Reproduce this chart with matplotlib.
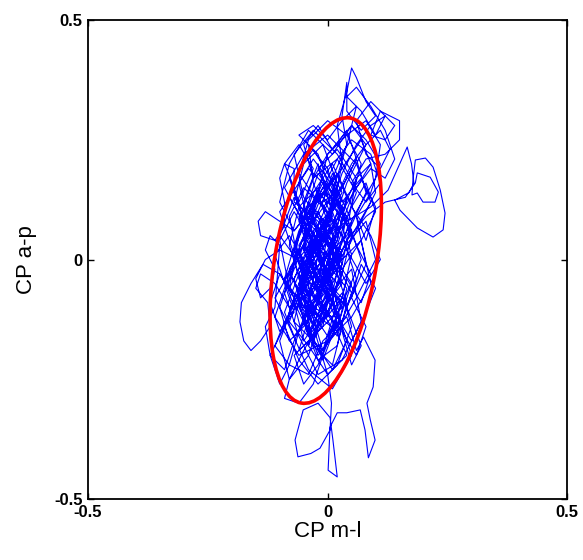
import matplotlib
matplotlib.use("Agg")
import matplotlib.pyplot as plt
from matplotlib.patches import Ellipse
import numpy as np

# centre of pressure path
core1_ml = [0.00, -0.03, 0.02, -0.01, -0.06, -0.02, 0.03, 0.01, -0.04, -0.07,
            -0.03, 0.02, 0.05, 0.00, -0.05, -0.02, 0.03, 0.00, -0.05, -0.08,
            -0.04, 0.01, -0.01, -0.06, -0.03, 0.02, 0.04, -0.01, -0.05, -0.02]
core1_ap = [0.00, 0.08, 0.15, 0.05, -0.04, -0.12, -0.05, 0.06, 0.12, 0.02,
            -0.08, -0.16, -0.07, 0.03, 0.09, 0.18, 0.11, -0.02, -0.10, -0.02,
            0.05, -0.04, -0.14, -0.19, -0.09, 0.00, 0.09, 0.14, 0.04, -0.05]

top_ml = [0.01, 0.03, 0.02, 0.04, 0.05, 0.06, 0.08, 0.10, 0.07, 0.04, 0.04, 0.03, 0.04, 0.01, -0.02]
top_ap = [0.10, 0.20, 0.28, 0.35, 0.40, 0.38, 0.33, 0.30, 0.27, 0.31, 0.37, 0.30, 0.24, 0.17, 0.10]

core2_ml = [-0.06, -0.03, 0.01, 0.04, 0.00, -0.04, -0.02, 0.02, -0.02, -0.07,
            -0.05, -0.01, 0.02, 0.00, -0.04, -0.07, -0.05, -0.01, 0.03, 0.05,
            0.02, -0.03, -0.01, 0.03, -0.02, -0.06, -0.04, 0.00, 0.03, 0.06]
core2_ap = [0.01, -0.07, -0.13, -0.20, -0.24, -0.18, -0.08, 0.02, 0.08, 0.12,
            0.20, 0.24, 0.16, 0.07, -0.01, -0.09, -0.17, -0.11, -0.03, 0.05,
            0.12, 0.06, -0.03, -0.10, -0.15, -0.08, 0.00, 0.09, 0.18, 0.24]

upright_ml = [0.09, 0.12, 0.14, 0.12, 0.09, 0.11, 0.15, 0.15, 0.12, 0.08, 0.05, 0.08, 0.11, 0.09, 0.05, 0.02]
upright_ap = [0.28, 0.30, 0.28, 0.25, 0.26, 0.31, 0.29, 0.25, 0.22, 0.21, 0.16, 0.12, 0.16, 0.22, 0.25, 0.21]

core3_ml = [-0.02, -0.05, -0.02, 0.01, -0.03, -0.07, -0.05, -0.01, 0.03, 0.01,
            -0.04, -0.08, -0.06, -0.03, 0.01, 0.04, 0.02, -0.03, -0.05, -0.02,
            0.02, 0.04, 0.01, -0.03, -0.06, -0.03, 0.00, 0.02, -0.01, -0.04]
core3_ap = [0.13, 0.06, -0.02, -0.09, -0.17, -0.13, -0.04, 0.04, 0.02, -0.07,
            -0.11, -0.06, 0.05, 0.14, 0.20, 0.13, 0.04, -0.04, -0.13, -0.21,
            -0.18, -0.09, 0.00, 0.03, -0.05, -0.14, -0.06, 0.07, 0.16, 0.10]

upleft_ml = [-0.07, -0.10, -0.13, -0.145, -0.14, -0.11, -0.09, -0.09, -0.10, -0.09, -0.07, -0.07, -0.05]
upleft_ap = [0.06, 0.08, 0.10, 0.08, 0.05, 0.04, 0.07, 0.12, 0.17, 0.20, 0.19, 0.14, 0.08]

core4_ml = [-0.02, 0.02, 0.00, -0.04, -0.06, -0.02, 0.01, -0.02, -0.06, -0.08,
            -0.04, -0.01, 0.03, 0.06, 0.03, -0.01, -0.05, -0.08, -0.06, -0.03]
core4_ap = [0.00, -0.05, -0.12, -0.06, 0.03, 0.10, 0.03, -0.07, -0.15, -0.22,
            -0.24, -0.17, -0.13, -0.04, 0.05, 0.11, 0.15, 0.09, -0.01, -0.10]

left_ml = [-0.07, -0.10, -0.135, -0.16, -0.18, -0.183, -0.175, -0.16, -0.14, -0.12, -0.125, -0.15, -0.14, -0.11, -0.08]
left_ap = [-0.07, -0.03, -0.01, -0.05, -0.09, -0.13, -0.17, -0.19, -0.17, -0.14, -0.09, -0.06, -0.03, -0.05, -0.10]

core5_ml = [-0.04, 0.00, 0.03, 0.00, -0.03, -0.06, -0.04, 0.00, 0.04, 0.02,
            -0.02, -0.05, -0.02, 0.02, 0.05, 0.07, 0.04, 0.00, -0.02, -0.05]
core5_ap = [-0.05, 0.02, 0.10, 0.17, 0.21, 0.16, 0.07, -0.01, -0.06, -0.15,
            -0.20, -0.12, -0.03, 0.05, 0.13, 0.20, 0.26, 0.22, 0.14, 0.02]

right_ml = [0.04, 0.09, 0.126, 0.166, 0.175, 0.18, 0.17, 0.14, 0.151, 0.187,
            0.22, 0.241, 0.245, 0.235, 0.22, 0.204, 0.183, 0.178, 0.176, 0.187,
            0.199, 0.224, 0.231, 0.214, 0.187, 0.183, 0.162, 0.12, 0.08, 0.04]
right_ap = [0.08, 0.11, 0.145, 0.235, 0.20, 0.16, 0.14, 0.124, 0.103, 0.066,
            0.047, 0.062, 0.097, 0.145, 0.193, 0.212, 0.208, 0.166, 0.135, 0.139,
            0.12, 0.12, 0.141, 0.172, 0.181, 0.16, 0.13, 0.12, 0.09, 0.04]

core6_ml = [0.01, -0.03, -0.07, -0.09, -0.06, -0.02, 0.02, 0.00, -0.04, -0.03,
            0.00, 0.03, 0.01, -0.03, -0.07, -0.05, -0.02, 0.01, 0.04, 0.06]
core6_ap = [-0.03, -0.11, -0.16, -0.11, -0.03, 0.05, 0.12, 0.19, 0.24, 0.16,
            0.08, -0.01, -0.09, -0.16, -0.20, -0.26, -0.22, -0.14, -0.12, -0.19]

bottom_ml = [0.075, 0.099, 0.095, 0.082, 0.089, 0.099, 0.085, 0.078, 0.068, 0.04,
             0.02, 0.005, 0.001, 0.02, 0.011, 0.005, -0.02, -0.051, -0.068, -0.062,
             -0.035, -0.016, 0.005, 0.008, 0.00]
bottom_ap = [-0.162, -0.21, -0.266, -0.30, -0.335, -0.377, -0.414, -0.356, -0.314, -0.32,
             -0.32, -0.35, -0.44, -0.454, -0.377, -0.33, -0.30, -0.314, -0.377, -0.412,
             -0.405, -0.394, -0.356, -0.30, -0.24]

core7_ml = [-0.03, -0.06, -0.03, 0.01, -0.02, -0.06, -0.08, -0.05, -0.01, 0.03,
            0.05, 0.02, -0.02, 0.02, 0.06, 0.04, 0.00, -0.04, -0.08, -0.10,
            -0.07, -0.04, -0.01, 0.02, -0.01, -0.04, -0.02, 0.01, -0.02, -0.06,
            -0.03, 0.00, 0.03, 0.06, 0.04, 0.01, -0.03, -0.07, -0.04, 0.00]
core7_ap = [-0.14, -0.06, 0.02, 0.09, 0.15, 0.11, 0.03, -0.07, -0.13, -0.08,
            0.01, 0.10, 0.19, 0.23, 0.17, 0.06, -0.04, -0.13, -0.17, -0.10,
            -0.01, 0.08, 0.00, -0.09, -0.19, -0.09, 0.01, 0.13, 0.22, 0.26,
            0.28, 0.25, 0.29, 0.32, 0.24, 0.14, 0.05, -0.04, -0.15, -0.08]

botleft_ml = [-0.04, -0.08, -0.09, -0.06, -0.03, -0.01]
botleft_ap = [-0.20, -0.25, -0.29, -0.30, -0.26, -0.20]

core8_ml = [0.02, 0.00, -0.04, -0.02, 0.02, 0.00, -0.05, -0.03, 0.01, 0.03,
            0.01, -0.03, -0.05, -0.02, 0.01, -0.02]
core8_ap = [-0.12, -0.03, 0.06, 0.13, 0.07, -0.01, -0.08, -0.18, -0.22, -0.14,
            -0.05, 0.04, 0.12, 0.20, 0.10, 0.02]

core9_ml = [-0.09, -0.05, 0.00, 0.06, 0.09, 0.05, 0.01, -0.04, -0.10, -0.07,
            -0.02, 0.03, 0.08, 0.10, 0.06, 0.02, -0.03, -0.08, -0.11, -0.06,
            0.00, 0.05, 0.09, 0.07, 0.03, -0.02, -0.07, -0.10, -0.05, 0.01]
core9_ap = [0.15, 0.22, 0.26, 0.20, 0.12, 0.05, 0.14, 0.19, 0.10, 0.01,
            -0.06, 0.02, 0.08, 0.00, -0.08, -0.15, -0.11, -0.03, -0.12, -0.20,
            -0.17, -0.12, -0.05, 0.04, -0.02, 0.06, 0.13, 0.05, -0.02, 0.07]

core10_ml = [0.04, 0.08, 0.05, 0.01, -0.04, -0.08, -0.10, -0.07, -0.03, 0.02,
             0.06, 0.08, 0.04, -0.01, -0.05, -0.09, -0.06, -0.02, 0.03, 0.07,
             0.05, 0.00, -0.04, -0.08, -0.05, -0.01, 0.04, 0.08, 0.06, 0.02]
core10_ap = [0.16, 0.24, 0.28, 0.22, 0.27, 0.20, 0.12, 0.06, 0.11, 0.18,
             0.09, -0.01, -0.10, -0.04, 0.03, -0.07, -0.16, -0.24, -0.21, -0.13,
             -0.02, -0.08, -0.18, -0.13, -0.05, 0.00, 0.05, 0.14, 0.21, 0.13]

core11_ml = [-0.03, -0.07, -0.11, -0.08, -0.04, 0.01, 0.05, 0.02, -0.02, -0.06,
             -0.03, 0.02, 0.06, 0.03, -0.01, -0.05, -0.09, -0.06, -0.01, 0.04,
             0.07, 0.04, 0.00, -0.04, -0.07, -0.03, 0.01, 0.05, 0.02, -0.02]
core11_ap = [0.04, -0.01, -0.08, -0.14, -0.23, -0.27, -0.20, -0.11, -0.04, 0.08,
             0.17, 0.21, 0.14, 0.06, -0.06, -0.12, -0.04, 0.06, 0.15, 0.09,
             0.00, -0.07, -0.16, -0.10, 0.00, 0.09, 0.01, -0.05, -0.14, -0.08]

core12_ml = [0.02, 0.06, 0.10, 0.11, 0.08, 0.04, 0.00, -0.04, -0.06, -0.02,
             0.03, 0.07, 0.09, 0.06, 0.02, -0.03, -0.07, -0.05, 0.00, 0.04,
             0.02, -0.02, -0.05, -0.03, 0.01, 0.05, 0.03, -0.01, -0.04, -0.02]
core12_ap = [0.02, 0.10, 0.17, 0.24, 0.29, 0.26, 0.29, 0.25, 0.18, 0.12,
             0.19, 0.25, 0.20, 0.15, 0.22, 0.27, 0.22, 0.13, 0.06, 0.13,
             0.04, -0.05, 0.02, 0.11, 0.17, 0.08, -0.01, -0.09, -0.02, 0.05]

core13_ml = [-0.06, -0.09, -0.06, -0.02, 0.02, 0.05, 0.03, -0.01, -0.05, -0.08,
             -0.10, -0.07, -0.03, 0.01, 0.04, 0.01, -0.03, -0.06, -0.04, 0.00,
             0.03, 0.00, -0.04, -0.07, -0.09, -0.05, -0.01, 0.02, -0.01, -0.04]
core13_ap = [-0.05, -0.14, -0.21, -0.26, -0.22, -0.14, -0.07, -0.12, -0.19, -0.25,
             -0.17, -0.09, -0.17, -0.23, -0.17, -0.09, -0.02, -0.09, -0.16, -0.11,
             -0.03, 0.04, -0.03, -0.10, -0.04, 0.03, -0.06, -0.13, -0.21, -0.14]

core14_ml = [-0.01, 0.03, -0.01, -0.05, -0.02, 0.02, -0.02, -0.06, -0.03, 0.01,
             -0.03, -0.06, -0.02, 0.02, -0.01, -0.05, -0.03, 0.01, 0.04, 0.00,
             -0.04, -0.01, 0.03, 0.00, -0.04, -0.07, -0.03, 0.01, -0.02, 0.00]
core14_ap = [-0.06, 0.01, 0.07, 0.00, -0.07, -0.02, 0.04, -0.03, -0.10, -0.05,
             0.02, 0.09, 0.13, 0.06, -0.01, 0.05, 0.12, 0.16, 0.08, 0.03,
             0.10, 0.17, 0.11, 0.04, 0.09, 0.03, -0.04, 0.00, -0.08, -0.03]

core15_ml = [0.03, 0.07, 0.10, 0.08, 0.05, 0.09, 0.11, 0.08, 0.04, 0.07,
             0.10, 0.09, 0.06, 0.03, 0.06, 0.09, 0.07, 0.04, 0.02, 0.05,
             0.08, 0.10, 0.07, 0.05, 0.08, 0.06, 0.03, 0.05, 0.07, 0.04]
core15_ap = [0.00, 0.04, 0.10, 0.16, 0.11, 0.05, 0.00, -0.05, 0.02, 0.08,
             0.14, 0.20, 0.17, 0.10, 0.03, -0.03, -0.09, -0.04, -0.12, -0.17,
             -0.11, -0.06, -0.01, -0.08, -0.14, -0.20, -0.15, -0.22, -0.18, -0.10]

core16_ml = [0.00, -0.05, -0.09, -0.11, -0.08, -0.10, -0.12, -0.09, -0.07, -0.10,
             -0.12, -0.10, -0.07, -0.09, -0.11, -0.08, -0.05, -0.08, -0.10, -0.07,
             -0.04, -0.07, -0.09, -0.06, -0.03, -0.06, -0.08, -0.05, -0.02, 0.00]
core16_ap = [-0.03, -0.08, -0.13, -0.18, -0.22, -0.26, -0.20, -0.14, -0.08, -0.03,
             -0.09, -0.15, -0.11, -0.05, 0.01, 0.05, 0.00, -0.06, 0.04, 0.10,
             0.05, 0.15, 0.20, 0.24, 0.19, 0.12, 0.17, 0.08, 0.02, -0.04]

core17_ml = [0.02, 0.04, 0.02, -0.01, -0.02, 0.00, 0.03, 0.01, -0.03, -0.05,
             -0.03, 0.00, -0.02, -0.05, -0.07, -0.05, -0.02, -0.04, -0.06, -0.04,
             -0.01, 0.02, 0.01, -0.02, -0.04, -0.02, 0.01, 0.03, 0.01, -0.01]
core17_ap = [-0.02, 0.03, 0.07, 0.05, 0.00, -0.05, -0.08, -0.12, -0.10, -0.05,
             0.00, 0.04, 0.09, 0.07, 0.02, -0.03, -0.07, -0.12, -0.09, -0.16,
             -0.19, -0.14, -0.09, -0.05, 0.01, 0.06, 0.10, 0.14, 0.18, 0.12]

core18_ml = [0.03, 0.06, 0.04, 0.01, -0.02, -0.05, -0.03, 0.00, 0.05, 0.08,
             0.11, 0.09, 0.06, 0.08, 0.10, 0.07, 0.03, 0.00, -0.03, -0.06,
             -0.08, -0.05, -0.02, 0.02, 0.05, 0.02, -0.01, -0.04, -0.02, 0.01]
core18_ap = [0.15, 0.21, 0.27, 0.23, 0.28, 0.24, 0.17, 0.22, 0.28, 0.25,
             0.20, 0.14, 0.09, 0.04, 0.11, 0.17, 0.12, 0.18, 0.23, 0.19,
             0.13, 0.08, 0.14, 0.10, 0.06, 0.00, 0.06, 0.02, -0.06, 0.00]

upper2_ml = [0.05, 0.08, 0.11, 0.13, 0.11, 0.08, 0.06, 0.09, 0.12, 0.10,
             0.07, 0.04, 0.06, 0.09, 0.12, 0.14, 0.12, 0.09, 0.06, 0.03]
upper2_ap = [0.20, 0.24, 0.27, 0.23, 0.19, 0.22, 0.29, 0.33, 0.30, 0.26,
             0.31, 0.34, 0.36, 0.32, 0.27, 0.21, 0.17, 0.19, 0.15, 0.10]

leftmid_ml = [-0.06, -0.10, -0.13, -0.15, -0.14, -0.12, -0.11, -0.13, -0.12, -0.10,
              -0.11, -0.13, -0.12, -0.09, -0.07, -0.04]
leftmid_ap = [0.00, 0.02, 0.00, -0.04, -0.08, -0.06, -0.02, 0.02, 0.05, 0.03,
              -0.10, -0.14, -0.20, -0.23, -0.17, -0.10]

# confidence ellipse: centre, semi-axes, tilt (deg)
ell_center = (-0.004, -0.002)
ell_semi_minor = 0.106
ell_semi_major = 0.302
ell_tilt = -9.7

ticks = [-0.5, 0, 0.5]
tick_labels = ["-0.5", "0", "0.5"]

pieces = [(core1_ml, core1_ap), (top_ml, top_ap), (core2_ml, core2_ap),
          (upright_ml, upright_ap), (core3_ml, core3_ap), (upleft_ml, upleft_ap),
          (core4_ml, core4_ap), (left_ml, left_ap), (core5_ml, core5_ap),
          (right_ml, right_ap), (core6_ml, core6_ap), (bottom_ml, bottom_ap),
          (core7_ml, core7_ap), (botleft_ml, botleft_ap), (core8_ml, core8_ap),
          (core9_ml, core9_ap), (core10_ml, core10_ap), (core11_ml, core11_ap),
          (core12_ml, core12_ap), (upper2_ml, upper2_ap), (core13_ml, core13_ap),
          (core14_ml, core14_ap), (core15_ml, core15_ap), (leftmid_ml, leftmid_ap),
          (core16_ml, core16_ap), (core17_ml, core17_ap), (core18_ml, core18_ap)]
cp_ml = np.concatenate([p[0] for p in pieces])
cp_ap = np.concatenate([p[1] for p in pieces])

plt.rcParams["font.family"] = ["Liberation Sans", "DejaVu Sans"]

fig = plt.figure(figsize=(5.83, 5.60), dpi=100)
ax = fig.add_axes([0.151, 0.109, 0.822, 0.855])

ax.plot(cp_ml, cp_ap, color=(0, 0, 1), lw=0.8)
ax.add_patch(Ellipse(ell_center, 2 * ell_semi_minor, 2 * ell_semi_major, angle=ell_tilt,
                     fill=False, ec=(1, 0, 0), lw=2.6, zorder=3))

ax.set_xlim(-0.5, 0.5)
ax.set_ylim(-0.5, 0.5)
ax.set_xticks(ticks)
ax.set_yticks(ticks)
ax.set_xticklabels(tick_labels, fontsize=12, fontweight="bold")
ax.set_yticklabels(tick_labels, fontsize=12, fontweight="bold")
ax.tick_params(direction="in", length=4, width=1, top=True, right=True, pad=4)
for s in ax.spines.values():
    s.set_linewidth(1.3)

ax.set_xlabel("CP m-l", fontsize=16, labelpad=1)
ax.set_ylabel("CP a-p", fontsize=16, labelpad=12)

fig.savefig("out.png", dpi=100)
